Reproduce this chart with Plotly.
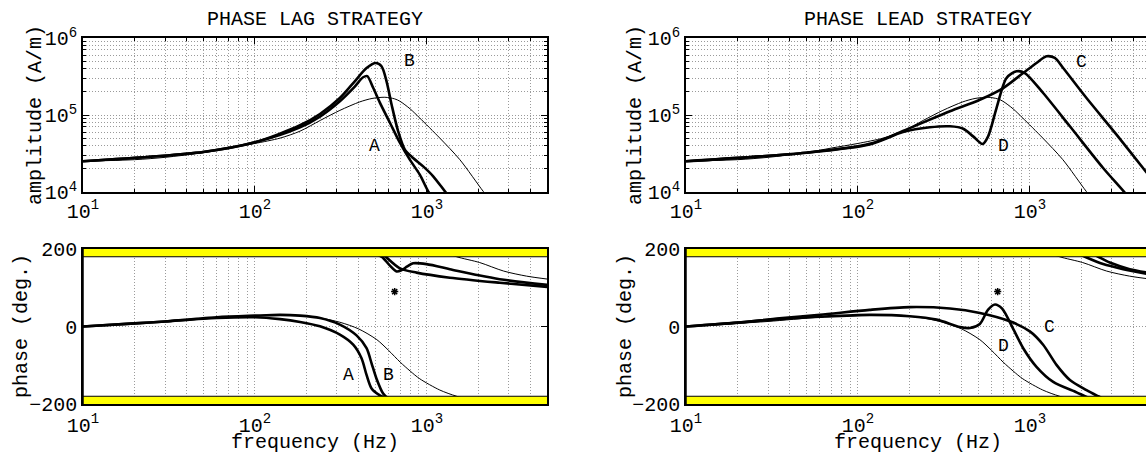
import numpy as np
import plotly.graph_objects as go

FONT = "Liberation Mono, Courier New, monospace"
W, H = 1146, 455
GRID = "#9a9a9a"
DASH = "1px,2px"

# ---------------------------------------------------------------------------
# Frequency responses (frequency in Hz, amplitude in A/m, phase in degrees,
# phase given unwrapped: values below -180 are shown wrapped to +180)
# ---------------------------------------------------------------------------

# uncompensated system (thin line), common to both strategies
base_amp_f = [10, 20, 30, 50, 70, 100, 140, 183, 240, 312, 407, 480, 570, 650,
              697, 800, 910, 1190, 1556, 2128, 2300]
base_amp = [2.51e4, 2.63e4, 2.82e4, 3.24e4, 3.72e4, 4.27e4, 5.01e4, 6.17e4,
            8.51e4, 1.148e5, 1.479e5, 1.64e5, 1.70e5, 1.62e5, 1.51e5, 1.20e5,
            9.12e4, 5.01e4, 2.63e4, 1.02e4, 8.3e3]
base_ph_f = [10, 20, 30, 60, 100, 140, 183, 240, 312, 400, 512, 600, 700, 800,
             910, 1190, 1490, 2030, 2800, 3800, 5100]
base_ph = [0, 8, 13, 24, 28, 30, 28, 22, 11, -6, -34, -62, -92, -115, -135,
           -164, -180, -195, -217, -230, -238]

# phase lag strategy, curve A
a_amp_f = [10, 50, 100, 183, 239, 312, 381, 426, 450, 488, 533, 610, 697, 796,
           910, 1018, 1100]
a_amp = [2.51e4, 3.31e4, 4.42e4, 6.92e4, 9.55e4, 1.51e5, 2.34e5, 3.09e5,
         3.20e5, 2.24e5, 1.45e5, 7.94e4, 4.37e4, 2.63e4, 1.68e4, 1.02e4, 7.9e3]
a_ph_f = [10, 20, 30, 60, 100, 140, 183, 239, 312, 373, 417, 446, 477, 533,
          551, 610, 667, 711, 770, 832, 995, 1362, 2000, 2655, 5100]
a_ph = [0, 8, 13, 22, 24, 19, 11.7, 0.5, -21, -47, -82, -125, -160, -178,
        -181, -203, -218, -215, -205, -197, -199, -212, -228, -238, -253]

# phase lag strategy, curve B
b_amp_f = [10, 50, 100, 183, 239, 312, 381, 446, 505, 545, 583, 624, 681, 745,
           832, 952, 1089, 1274, 1400]
b_amp = [2.51e4, 3.31e4, 4.42e4, 7.35e4, 1.03e5, 1.66e5, 2.74e5, 4.07e5,
         4.73e5, 4.29e5, 2.74e5, 1.36e5, 6.14e4, 3.55e4, 2.77e4, 2.15e4,
         1.60e4, 1.02e4, 7.9e3]
b_ph_f = [10, 20, 30, 60, 100, 140, 183, 239, 312, 390, 446, 477, 509, 557,
          580, 697, 871, 1362, 2655, 5100]
b_ph = [0, 8, 13, 24, 28, 30, 28, 22, 5, -23, -56, -95, -134, -173, -181,
        -210, -221, -234, -247, -258]

# phase lead strategy, curve C
c_amp_f = [10, 50, 117, 200, 343, 512, 700, 915, 1093, 1250, 1397, 1562, 2136,
           3193, 4724, 4900]
c_amp = [2.51e4, 3.24e4, 4.22e4, 6.76e4, 1.12e5, 1.58e5, 2.24e5, 3.51e5,
         4.73e5, 5.78e5, 5.50e5, 4.07e5, 1.66e5, 5.56e4, 1.85e4, 1.68e4]
c_ph_f = [10, 20, 35, 60, 117, 200, 343, 512, 765, 1000, 1195, 1429, 1710,
          2136, 2500, 2917, 3813, 4900]
c_ph = [0, 10, 21, 30, 43, 50, 46.4, 35, 13.5, -12.5, -47, -99, -138, -164,
        -180, -195, -212, -221]

# phase lead strategy, curve D
d_amp_f = [10, 50, 117, 183, 262, 343, 410, 468, 531, 572, 640, 732, 837, 935,
           1195, 1710, 2669, 3566, 3900]
d_amp = [2.51e4, 3.24e4, 4.15e4, 6.0e4, 6.92e4, 7.13e4, 6.64e4, 5.28e4,
         4.20e4, 5.28e4, 1.23e5, 3.03e5, 3.69e5, 3.51e5, 1.93e5, 7.13e4,
         2.05e4, 9.8e3, 7.6e3]
d_ph_f = [10, 20, 35, 60, 117, 200, 287, 392, 448, 512, 572, 627, 690, 796,
          915, 1093, 1368, 1870, 2090, 2669, 3491, 4900]
d_ph = [0, 10, 19, 25, 30, 26.5, 17.7, -1.3, -4, 6.5, 43.7, 56.7, 46, -4, -56,
        -104, -143, -170, -180, -199, -212, -225]

# design target marked on both phase plots
target_f = [650]
target_ph = [90]

# ---------------------------------------------------------------------------
fig = go.Figure()


def add_curve(x, y, xa, ya, width):
    fig.add_trace(go.Scatter(
        x=x, y=y, xaxis=xa, yaxis=ya, mode="lines",
        line=dict(color="black", width=width, shape="spline", smoothing=0.8),
        showlegend=False, hoverinfo="skip"))


def add_phase(x, y, xa, ya, width):
    # the phase is displayed modulo 360 degrees
    add_curve(x, y, xa, ya, width)
    add_curve(x, [v + 360 for v in y], xa, ya, width)


THIN, THICK = 1.0, 2.6

# phase lag strategy
add_curve(base_amp_f, base_amp, "x", "y", THIN)
add_curve(a_amp_f, a_amp, "x", "y", THICK)
add_curve(b_amp_f, b_amp, "x", "y", THICK)
add_phase(base_ph_f, base_ph, "x2", "y2", THIN)
add_phase(a_ph_f, a_ph, "x2", "y2", THICK)
add_phase(b_ph_f, b_ph, "x2", "y2", THICK)

# phase lead strategy
add_curve(base_amp_f, base_amp, "x3", "y3", THIN)
add_curve(c_amp_f, c_amp, "x3", "y3", THICK)
add_curve(d_amp_f, d_amp, "x3", "y3", THICK)
add_phase(base_ph_f, base_ph, "x4", "y4", THIN)
add_phase(c_ph_f, c_ph, "x4", "y4", THICK)
add_phase(d_ph_f, d_ph, "x4", "y4", THICK)

for xa, ya in (("x2", "y2"), ("x4", "y4")):
    fig.add_trace(go.Scatter(
        x=target_f, y=target_ph, xaxis=xa, yaxis=ya, mode="markers",
        marker=dict(symbol="asterisk-open", size=6, color="black",
                    line=dict(color="black", width=1.5)),
        showlegend=False, hoverinfo="skip"))

# ---------------------------------------------------------------------------
# axes
dec_x = [10, 100, 1000]
dec_x_txt = ["10<sup>1</sup>", "10<sup>2</sup>", "10<sup>3</sup>"]
minor_x = [m * d for d in (10, 100, 1000) for m in range(2, 10)]
dec_y = [1e4, 1e5, 1e6]
dec_y_txt = ["10<sup>4</sup>", "10<sup>5</sup>", "10<sup>6</sup>"]
minor_y = [m * d for d in (1e4, 1e5) for m in range(2, 10)]

tickfont = dict(family=FONT, size=20, color="black")


def px_x(p):
    return p / W


def px_y(p):
    return 1 - p / H


LEFT_DOM = [px_x(83), px_x(547)]
RIGHT_DOM = [px_x(686), 1.0]
TOP_DOM = [px_y(192), px_y(38)]
BOT_DOM = [px_y(404), px_y(249)]

full_rng = [1, np.log10(5000)]
right_rng = [1, 1 + np.log10(500) * (W - 686) / 464]


def common(**kw):
    d = dict(showline=True, linecolor="black", linewidth=1.5,
             ticks="inside", ticklen=6, tickcolor="black", tickwidth=1,
             tickfont=tickfont, zeroline=False, automargin=False,
             showgrid=True, gridcolor=GRID, griddash=DASH, gridwidth=1)
    d.update(kw)
    return d


def freq_axis(domain, rng, anchor, mirror, standoff=0):
    return common(type="log", domain=domain, range=rng, anchor=anchor,
                  mirror=mirror, tickvals=dec_x, ticktext=dec_x_txt,
                  ticklabelstandoff=standoff,
                  minor=dict(tickvals=minor_x, ticks="inside", ticklen=3,
                             tickcolor="black", showgrid=True,
                             gridcolor=GRID, griddash=DASH))


def amp_axis(domain, anchor, mirror):
    return common(type="log", domain=domain, range=[4, 6], anchor=anchor,
                  mirror=mirror, tickvals=dec_y, ticktext=dec_y_txt,
                  minor=dict(tickvals=minor_y, ticks="inside", ticklen=3,
                             tickcolor="black", showgrid=True,
                             gridcolor=GRID, griddash=DASH))


def phase_axis(domain, anchor, mirror):
    return common(domain=domain, range=[-200, 200], anchor=anchor,
                  mirror=mirror, tickvals=[-200, 0, 200])


fig.update_layout(
    width=W, height=H,
    margin=dict(l=0, r=0, t=0, b=0, pad=0),
    paper_bgcolor="white", plot_bgcolor="white",
    font=dict(family=FONT, size=20, color="black"),
    xaxis=freq_axis(LEFT_DOM, full_rng, "y", "ticks"),
    yaxis=amp_axis(TOP_DOM, "x", "ticks"),
    xaxis2=freq_axis(LEFT_DOM, full_rng, "y2", "ticks", standoff=2),
    yaxis2=phase_axis(BOT_DOM, "x2", "ticks"),
    xaxis3=freq_axis(RIGHT_DOM, right_rng, "y3", "ticks"),
    yaxis3=amp_axis(TOP_DOM, "x3", False),
    xaxis4=freq_axis(RIGHT_DOM, right_rng, "y4", "ticks", standoff=2),
    yaxis4=phase_axis(BOT_DOM, "x4", False),
)

# phase limit bands (+/-180 to +/-200 deg) and the left frame line over them
shapes = []
for xa, ya in (("x2", "y2"), ("x4", "y4")):
    for y0, y1, edge in ((180, 200, 180), (-200, -180, -180)):
        shapes.append(dict(type="rect", xref=f"{xa} domain", yref=ya,
                           x0=0, x1=1, y0=y0, y1=y1, fillcolor="#ffff00",
                           line=dict(width=0), layer="above"))
        shapes.append(dict(type="line", xref=f"{xa} domain", yref=ya,
                           x0=0, x1=1, y0=edge, y1=edge,
                           line=dict(color="black", width=1), layer="above"))
    shapes.append(dict(type="line", xref=f"{xa} domain", yref=f"{ya} domain",
                       x0=0, x1=0, y0=0, y1=1,
                       line=dict(color="black", width=1.5), layer="above"))
fig.update_layout(shapes=shapes)

# ---------------------------------------------------------------------------
# titles and labels
ann = []


def text(x, y, s, size=20, angle=0, xref="paper", yref="paper",
         yanchor="middle"):
    ann.append(dict(x=x, y=y, xref=xref, yref=yref, text=s, showarrow=False,
                    textangle=angle, xanchor="center", yanchor=yanchor,
                    borderpad=0,
                    font=dict(family=FONT, size=size, color="black")))


text(px_x(315), px_y(19.5), "PHASE LAG STRATEGY")
text(px_x(918), px_y(19.5), "PHASE LEAD STRATEGY")
text(px_x(315), 0, "frequency (Hz)", yanchor="bottom")
text(px_x(918), 0, "frequency (Hz)", yanchor="bottom")
text(px_x(35), px_y(115), "amplitude (A/m)", angle=-90)
text(px_x(635), px_y(115), "amplitude (A/m)", angle=-90)
text(px_x(21), px_y(326), "phase (deg.)", angle=-90)
text(px_x(625), px_y(326), "phase (deg.)", angle=-90)

# curve labels (log axes take log10 positions)
lg = np.log10
text(lg(499), lg(3.92e4), "A", 18, xref="x", yref="y")
text(lg(796), lg(4.98e5), "B", 18, xref="x", yref="y")
text(lg(349), -125, "A", 18, xref="x2", yref="y2")
text(lg(595), -125, "B", 18, xref="x2", yref="y2")
text(lg(1995), lg(4.88e5), "C", 18, xref="x3", yref="y3")
text(lg(700), lg(3.92e4), "D", 18, xref="x3", yref="y3")
text(lg(1306), -1.3, "C", 18, xref="x4", yref="y4")
text(lg(700), -51.5, "D", 18, xref="x4", yref="y4")

fig.update_layout(annotations=ann)

fig.write_html("out.html")
